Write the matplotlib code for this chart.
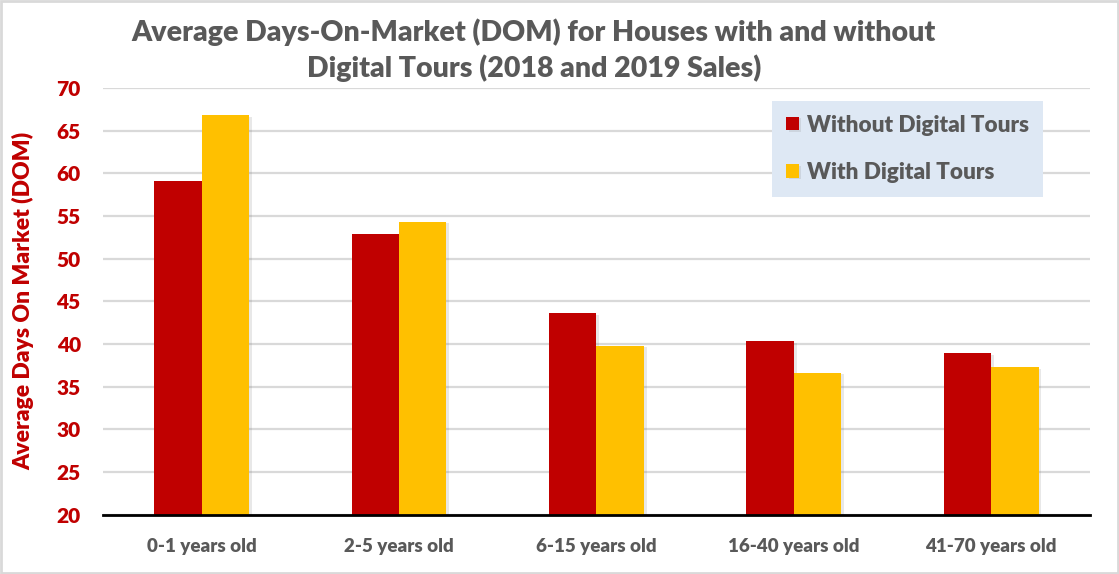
import matplotlib.pyplot as plt
import matplotlib.patheffects as pe
import numpy as np

# data
categories = ['0-1 years old', '2-5 years old', '6-15 years old', '16-40 years old', '41-70 years old']
without_tours = [59.1, 52.9, 43.6, 40.3, 38.9]
with_tours = [66.8, 54.3, 39.8, 36.6, 37.3]

red = '#C00000'
yellow = '#FFC000'
gray = '#595959'
font = 'Lato'

fig = plt.figure(figsize=(11.19, 5.74), dpi=100)
ax = fig.add_axes([0.092, 0.103, 0.882, 0.744])

x = np.arange(len(categories))
w = 0.24
shadow = [pe.SimplePatchShadow(offset=(2, -1), alpha=0.18, shadow_rgbFace='#808080'), pe.Normal()]
b1 = ax.bar(x - w / 2, without_tours, w, color=red, label='Without Digital Tours', zorder=3)
b2 = ax.bar(x + w / 2, with_tours, w, color=yellow, label='With Digital Tours', zorder=3)
for b in list(b1) + list(b2):
    b.set_path_effects(shadow)

ax.set_ylim(20, 70)
ax.set_xlim(-0.5, len(categories) - 0.5)
ax.set_yticks(np.arange(20, 71, 5))
ax.yaxis.grid(True, color='#D9D9D9', linewidth=1.6, zorder=0)
ax.set_axisbelow(True)
for s in ['top', 'right', 'left']:
    ax.spines[s].set_visible(False)
ax.spines['bottom'].set_color('black')
ax.spines['bottom'].set_linewidth(2)
ax.spines['bottom'].set_zorder(4)
ax.tick_params(axis='both', length=0)
ax.tick_params(axis='y', pad=16)
ax.tick_params(axis='x', pad=17)

ax.set_xticks(x)
ax.set_xticklabels(categories, fontsize=13.5, fontweight='heavy', color=gray, family=font)
for t in ax.get_yticklabels():
    t.set_fontsize(15)
    t.set_fontweight('heavy')
    t.set_color(red)
    t.set_family(font)

ax.set_ylabel('Average Days On Market (DOM)', fontsize=16.5, fontweight='heavy', color=red,
              family=font)
ax.yaxis.set_label_coords(-0.0695, 0.5)

fig.text(0.477, 0.913, 'Average Days-On-Market (DOM) for Houses with and without\nDigital Tours (2018 and 2019 Sales)',
         ha='center', va='center', fontsize=20.5, fontweight='heavy', color=gray, family=font,
         linespacing=1.35)

leg = ax.legend(loc='upper right', bbox_to_anchor=(0.952, 0.97), frameon=True, fancybox=False,
                facecolor='#DEE8F4', edgecolor='none', framealpha=1,
                handlelength=0.55, handleheight=0.55, handletextpad=0.35,
                labelspacing=1.17, borderpad=0.62, borderaxespad=0,
                prop={'family': font, 'weight': 'heavy', 'size': 16.2})
for t in leg.get_texts():
    t.set_color(gray)
leg.set_zorder(5)

# light gray border round the whole picture
fig.patches.append(plt.Rectangle((0.001, 0.001), 0.998, 0.997, transform=fig.transFigure,
                                 fill=False, edgecolor='#D9D9D9', linewidth=2))

plt.savefig('out.png', dpi=100)
